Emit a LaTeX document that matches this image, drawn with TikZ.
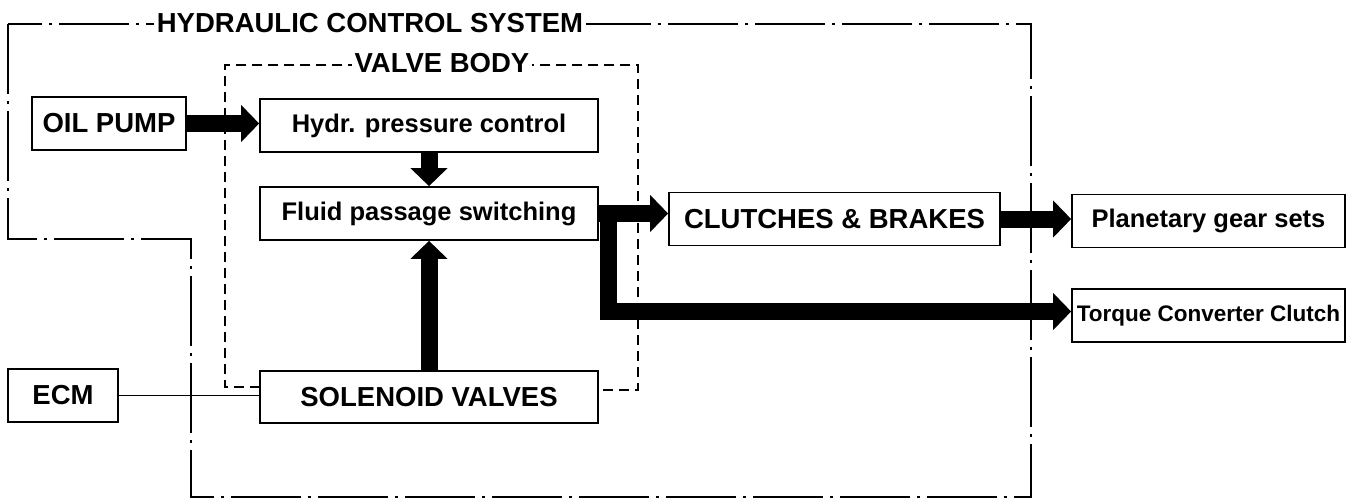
\documentclass[tikz,border=0pt]{standalone}
\usepackage{fontspec}
\setmainfont{Liberation Sans}
\usetikzlibrary{arrows.meta,calc,positioning}
\tikzset{
  blk/.style={draw, line width=1.7pt, minimum height=53pt, inner sep=2pt, font=\bfseries\fontsize{25.5}{28}\selectfont},
  capsblk/.style={blk, font=\bfseries\fontsize{27.5}{30}\selectfont},
  fat/.style={line width=17pt, -{Triangle[length=18pt,width=36pt]}, line join=miter},
  hcs/.style={line width=1.3pt, dash pattern=on 70pt off 7pt on 3pt off 7pt},
  vb/.style={line width=1.3pt, dash pattern=on 10pt off 6pt},
  ttl/.style={fill=white, inner sep=3pt, font=\bfseries\fontsize{27.5}{30}\selectfont},
  every picture/.style={line cap=butt}
}

\begin{document}
\begin{tikzpicture}[x=1pt,y=-1pt]
  \useasboundingbox (0,0) rectangle (1353,503);

  % frames
  \draw[hcs] (8,24) -- (8,239) -- (191,239) -- (191,497) -- (1031,497) -- (1031,24) -- cycle;
  \node[ttl] (hcst) at (370,23) {HYDRAULIC CONTROL SYSTEM};
  \draw[vb] (260,387) -- (225,387) -- (225,65) -- (638,65) -- (638,390) -- (598,390);
  \node[ttl] (vbt) at (442,63) {VALVE BODY};

  % blocks
  \node[capsblk, minimum width=154pt] (pump) at (109,123.5) {OIL PUMP};
  \node[blk, minimum width=338pt] (hydr) at (429,125.5) {Hydr. pressure control};
  \node[blk, minimum width=338pt] (fluid) at (429,213.5) {Fluid passage switching};
  \node[capsblk, minimum width=331pt] (clutch) at (834.5,219) {CLUTCHES \& BRAKES};
  \node[blk, minimum width=273pt] (planet) at (1208.5,221) {Planetary gear sets};
  \node[blk, minimum width=273pt, font=\bfseries\fontsize{22.5}{25}\selectfont] (tcc) at (1208.5,315.5) {Torque Converter Clutch};
  \node[capsblk, minimum width=110pt] (ecm) at (63,395.5) {ECM};
  \node[capsblk, minimum width=338pt, minimum height=52pt] (sol) at (429,397) {SOLENOID VALVES};

  % oil flow
  \draw[fat] (pump.east) -- (pump.east -| hydr.west);
  \draw[fat] (hydr.south) -- (fluid.north);
  \draw[fat] (sol.north) -- (fluid.south);
  \draw[fat] (fluid.east) -- (fluid.east -| clutch.west);
  \coordinate (br) at ($(fluid.east)+(10,0)$);
  \draw[fat] (br) |- ([yshift=4pt]tcc.west);
  \draw[fat] (clutch.east) -- (clutch.east -| planet.west);

  % signal
  \draw[line width=1.3pt] (ecm.east) -- (ecm.east -| sol.west);
\end{tikzpicture}
\end{document}
